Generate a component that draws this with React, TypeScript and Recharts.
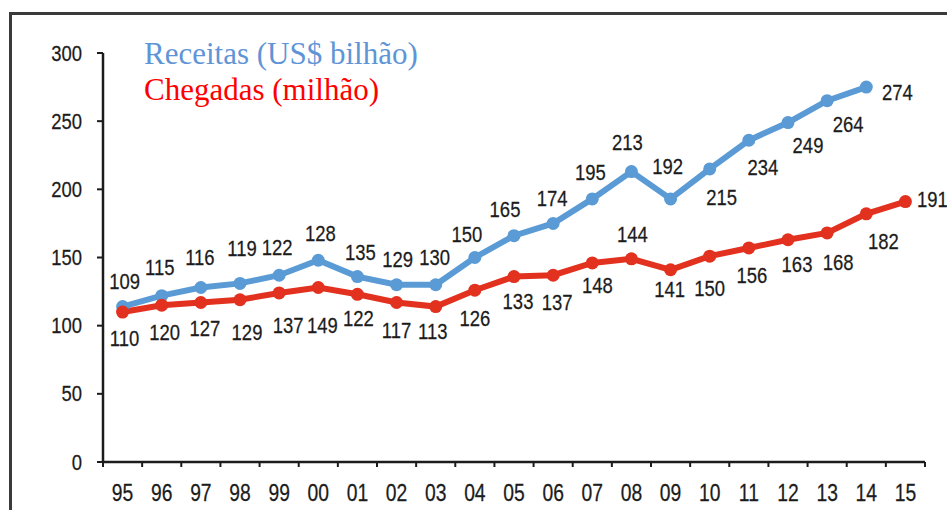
import { LineChart, Line, XAxis, YAxis, LabelList } from 'recharts';

const years = ['95', '96', '97', '98', '99', '00', '01', '02', '03', '04', '05', '06', '07', '08', '09', '10', '11', '12', '13', '14', '15'];
const receitas = [114, 122, 128, 131, 137, 148, 136, 130, 130, 150, 166, 175, 193, 213, 193, 215, 236, 249, 265, 275];
const chegadas = [110, 115, 117, 119, 124, 128, 123, 117, 114, 126, 136, 137, 146, 149, 141, 151, 157, 163, 168, 182, 191];
const receitasLabels = ['109', '115', '116', '119', '122', '128', '135', '129', '130', '150', '165', '174', '195', '213', '192', '215', '234', '249', '264', '274'];
const chegadasLabels = ['110', '120', '127', '129', '137', '149', '122', '117', '113', '126', '133', '137', '148', '144', '141', '150', '156', '163', '168', '182', '191'];
const yTicks = [0, 50, 100, 150, 200, 250, 300];

// label placement relative to each point (px)
const blueDx = [2, -2, -1, 2, -2, 2, 3, 1, -1, -8, -9, -1, -2, -4, -3, 12, 14, 20, 21, 31];
const blueDy = [-25, -28, -30, -35, -28, -27, -24, -25, -27, -23, -26, -25, -26, -29, -32, 29, 27, 23, 24, 5];
const redDx = [2, 3, 4, 7, 9, 4, 1, 0, -3, 0, 4, 4, 5, 1, -1, 0, 3, 9, 11, 17, 27];
const redDy = [26, 27, 26, 33, 32, 38, 24, 28, 25, 28, 25, 27, 22, -24, 20, 32, 27, 25, 29, 28, -2];

const data = years.map((year, i) => ({
  year,
  receitas: i < receitas.length ? receitas[i] : null,
  chegadas: chegadas[i],
}));

const W = 947;
const H = 510;
const PLOT_LEFT = 103;
const PLOT_RIGHT = 925;
const BAND = (PLOT_RIGHT - PLOT_LEFT) / years.length;
const BLUE = '#5b9bd5';
const RED = '#e3311f';
const INK = '#1c1c1c';

const NarrowText = ({ x, y, text, size = 22, anchor = 'middle' }: any) => (
  <text
    transform={`translate(${x} ${y}) scale(0.84 1)`}
    textAnchor={anchor}
    dominantBaseline="central"
    fontFamily="'Liberation Sans', Arial, sans-serif"
    fontSize={size}
    fill={INK}
    stroke={INK}
    strokeWidth={0.25}
  >
    {text}
  </text>
);

const XTick = (props: any) => {
  const { x, y, payload, index } = props;
  const half = BAND / 2;
  return (
    <g>
      <line x1={x - half} x2={x - half} y1={y} y2={y + 5} stroke={INK} strokeWidth={2} />
      {index === years.length - 1 && (
        <line x1={x + half} x2={x + half} y1={y} y2={y + 5} stroke={INK} strokeWidth={2} />
      )}
      <NarrowText x={x} y={y + 31} text={payload.value} size={23} />
    </g>
  );
};

const YTick = (props: any) => {
  const { x, y, payload } = props;
  return <NarrowText x={x} y={y} text={payload.value} anchor="end" />;
};

const makeLabel = (texts: string[], dx: number[], dy: number[]) => (props: any) => {
  const { x, y, index } = props;
  if (x == null || y == null || texts[index] == null) return null;
  return <NarrowText x={x + dx[index]} y={y + dy[index]} text={texts[index]} />;
};

export default function App() {
  return (
    <div style={{ position: 'absolute', left: 0, top: 0, width: W, height: H, overflow: 'hidden', background: '#fff' }}>
      <div
        style={{
          position: 'absolute',
          left: 9,
          top: 12,
          width: 1200,
          height: 800,
          borderTop: '3px solid #3a3a3a',
          borderLeft: '3px solid #3a3a3a',
        }}
      />
      <div style={{ position: 'absolute', left: 0, top: 0 }}>
        <LineChart width={W} height={H} data={data} margin={{ top: 53, right: W - PLOT_RIGHT, bottom: 0, left: 0 }}>
          <XAxis
            dataKey="year"
            height={48}
            interval={0}
            tickSize={0}
            tickMargin={0}
            tickLine={false}
            padding={{ left: BAND / 2, right: BAND / 2 }}
            axisLine={{ stroke: INK, strokeWidth: 2.5 }}
            tick={<XTick />}
          />
          <YAxis
            width={PLOT_LEFT}
            domain={[0, 300]}
            ticks={yTicks}
            interval={0}
            tickSize={6}
            tickMargin={15}
            tickLine={{ stroke: INK, strokeWidth: 2 }}
            axisLine={{ stroke: INK, strokeWidth: 2.5 }}
            tick={<YTick />}
          />
          <Line
            type="linear"
            dataKey="receitas"
            stroke={BLUE}
            strokeWidth={6}
            dot={{ r: 6.5, fill: BLUE, stroke: 'none' }}
            isAnimationActive={false}
            connectNulls={false}
          >
            <LabelList dataKey="receitas" content={makeLabel(receitasLabels, blueDx, blueDy)} />
          </Line>
          <Line
            type="linear"
            dataKey="chegadas"
            stroke={RED}
            strokeWidth={6}
            dot={{ r: 6.5, fill: RED, stroke: 'none' }}
            isAnimationActive={false}
          >
            <LabelList dataKey="chegadas" content={makeLabel(chegadasLabels, redDx, redDy)} />
          </Line>
        </LineChart>
      </div>
      <div
        style={{
          position: 'absolute',
          left: 144,
          top: 36,
          fontFamily: "'Liberation Serif', 'Times New Roman', serif",
          fontSize: 31,
          lineHeight: '36px',
          whiteSpace: 'nowrap',
        }}
      >
        <div style={{ color: '#5f95d6' }}>Receitas (US$ bilhão)</div>
        <div style={{ color: '#ff0000' }}>Chegadas (milhão)</div>
      </div>
    </div>
  );
}
